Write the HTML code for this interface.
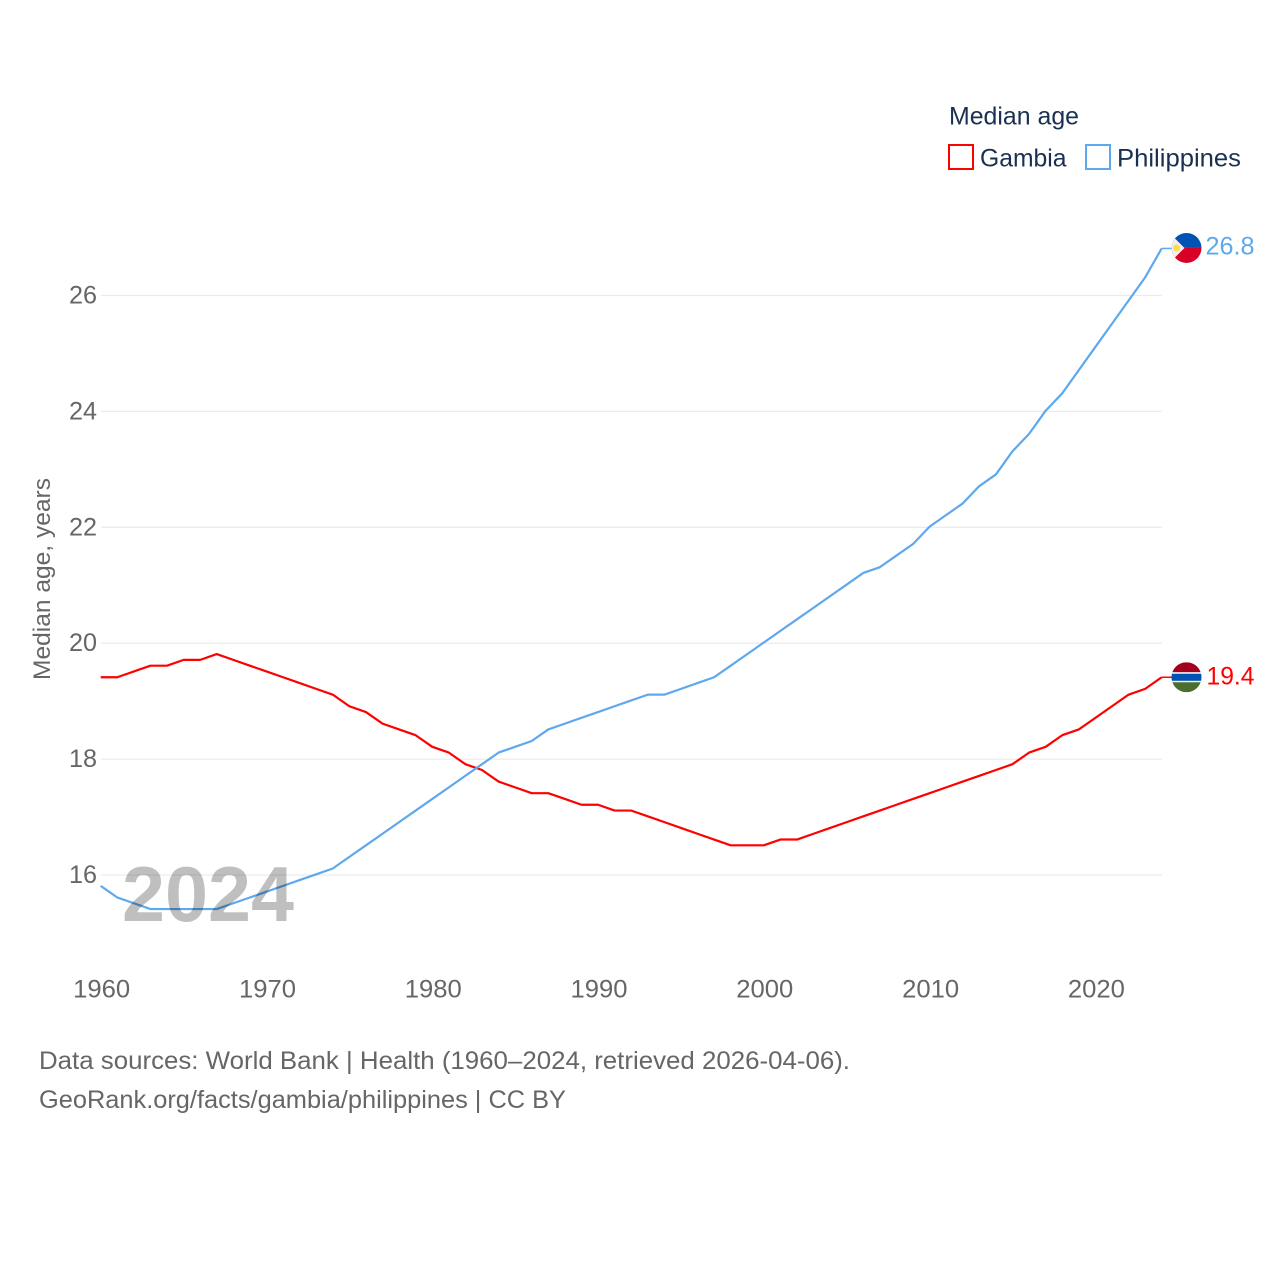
<!DOCTYPE html>
<html lang="en">
<head>
<meta charset="utf-8">
<title>Median age: Gambia vs Philippines</title>
<style>
html,body{margin:0;padding:0;background:#fff;}
svg{display:block;}
text{font-family:"Liberation Sans",sans-serif;}
</style>
</head>
<body>
<svg id="chart" xmlns="http://www.w3.org/2000/svg" width="1280" height="1280" viewBox="0 0 1280 1280">
  <rect x="0" y="0" width="1280" height="1280" fill="#fff"/>
  <g id="grid"></g>
  <g id="yticks"></g>
  <g id="xticks"></g>
  <text transform="translate(50,680) rotate(-90)" font-size="24.5" fill="#666" textLength="202" lengthAdjust="spacingAndGlyphs">Median age, years</text>
  <g id="series"></g>
  <text x="122" y="921" font-size="78" font-weight="700" fill="#000" fill-opacity="0.25" textLength="172" lengthAdjust="spacingAndGlyphs">2024</text>

  <g id="philippines-flag">
    <clipPath id="ph-clip"><circle id="ph-clip-c" r="15"/></clipPath>
    <g id="ph-flag-g" clip-path="url(#ph-clip)"></g>
  </g>
  <g id="gambia-flag">
    <clipPath id="gm-clip"><circle id="gm-clip-c" r="15"/></clipPath>
    <g id="gm-flag-g" clip-path="url(#gm-clip)"></g>
  </g>
  <g id="endlabels"></g>

  <g>
    <text x="949" y="124.5" font-size="25" fill="#1a3052" textLength="130" lengthAdjust="spacingAndGlyphs">Median age</text>
    <rect x="949" y="145" width="24" height="24" fill="none" stroke="#ff0000" stroke-width="2"/>
    <text x="980" y="166.5" font-size="25" fill="#1a3052" textLength="86.500" lengthAdjust="spacingAndGlyphs">Gambia</text>
    <rect x="1086" y="145" width="24" height="24" fill="none" stroke="#5ea8ee" stroke-width="2"/>
    <text x="1117" y="166.5" font-size="25" fill="#1a3052" textLength="124" lengthAdjust="spacingAndGlyphs">Philippines</text>
  </g>

  <text x="39" y="1069" font-size="25" fill="#666" textLength="811" lengthAdjust="spacingAndGlyphs">Data sources: World Bank | Health (1960–2024, retrieved 2026-04-06).</text>
  <text x="39" y="1108" font-size="25" fill="#666" textLength="527" lengthAdjust="spacingAndGlyphs">GeoRank.org/facts/gambia/philippines | CC BY</text>
</svg>
<script>
const years = [1960,1961,1962,1963,1964,1965,1966,1967,1968,1969,1970,1971,1972,1973,1974,1975,1976,1977,1978,1979,1980,1981,1982,1983,1984,1985,1986,1987,1988,1989,1990,1991,1992,1993,1994,1995,1996,1997,1998,1999,2000,2001,2002,2003,2004,2005,2006,2007,2008,2009,2010,2011,2012,2013,2014,2015,2016,2017,2018,2019,2020,2021,2022,2023,2024];
const gambiaValues = [19.4,19.4,19.5,19.6,19.6,19.7,19.7,19.8,19.7,19.6,19.5,19.4,19.3,19.2,19.1,18.9,18.8,18.6,18.5,18.4,18.2,18.1,17.9,17.8,17.6,17.5,17.4,17.4,17.3,17.2,17.2,17.1,17.1,17.0,16.9,16.8,16.7,16.6,16.5,16.5,16.5,16.6,16.6,16.7,16.8,16.9,17.0,17.1,17.2,17.3,17.4,17.5,17.6,17.7,17.8,17.9,18.1,18.2,18.4,18.5,18.7,18.9,19.1,19.2,19.4];
const philippinesValues = [15.8,15.6,15.5,15.4,15.4,15.4,15.4,15.4,15.5,15.6,15.7,15.8,15.9,16.0,16.1,16.3,16.5,16.7,16.9,17.1,17.3,17.5,17.7,17.9,18.1,18.2,18.3,18.5,18.6,18.7,18.8,18.9,19.0,19.1,19.1,19.2,19.3,19.4,19.6,19.8,20.0,20.2,20.4,20.6,20.8,21.0,21.2,21.3,21.5,21.7,22.0,22.2,22.4,22.7,22.9,23.3,23.6,24.0,24.3,24.7,25.1,25.5,25.9,26.3,26.8];
const yTickValues = [16,18,20,22,24,26];
const xTickValues = [1960,1970,1980,1990,2000,2010,2020];

const NS = 'http://www.w3.org/2000/svg';
const xPos = function (year) { return 100.7 + (year - 1960) * (1161.7 - 100.7) / 64; };
const yPos = function (value) { return 875 - (value - 16) * (875 - 295.5) / 10; };
const lineY = function (value) { return yPos(value) - 0.7; };

function make(tag, attrs, parent, content) {
  const el = document.createElementNS(NS, tag);
  Object.keys(attrs).forEach(function (k) { el.setAttribute(k, attrs[k]); });
  if (content !== undefined) { el.textContent = content; }
  parent.appendChild(el);
  return el;
}

const gridGroup = document.getElementById('grid');
const yGroup = document.getElementById('yticks');
const xGroup = document.getElementById('xticks');
const seriesGroup = document.getElementById('series');
const labelGroup = document.getElementById('endlabels');

yTickValues.forEach(function (v) {
  const line = make('line', {x1: 101, x2: 1162, y1: yPos(v), y2: yPos(v), stroke: '#ececec', 'stroke-width': 1.3}, gridGroup);
  
  
  const label = make('text', {x: 69, y: yPos(v) + 8, 'font-size': 25, fill: '#666', textLength: 28, lengthAdjust: 'spacingAndGlyphs'}, yGroup, String(v));
  
  
});

xTickValues.forEach(function (v) {
  const label = make('text', {x: xPos(v) - 27.5, y: 997.5, 'font-size': 25, fill: '#666', textLength: 57, lengthAdjust: 'spacingAndGlyphs'}, xGroup, String(v));
  
  
});

function linePath(values) {
  return values.map(function (v, i) {
    return (i ? 'L' : 'M') + xPos(years[i]).toFixed(2) + ' ' + lineY(v).toFixed(2);
  }).join(' ');
}

const gambiaLine = make('path', {d: linePath(gambiaValues), fill: 'none', stroke: '#ff0000', 'stroke-width': 2.2, 'stroke-linejoin': 'round'}, seriesGroup);


const philippinesLine = make('path', {d: linePath(philippinesValues), fill: 'none', stroke: '#5ea8ee', 'stroke-width': 2.2, 'stroke-linejoin': 'round'}, seriesGroup);



const lastYear = years[years.length - 1];
const gambiaLast = gambiaValues[gambiaValues.length - 1];
const philippinesLast = philippinesValues[philippinesValues.length - 1];
const endX = xPos(lastYear);
const flagX = endX + 24.8;

const gambiaTail = make('line', {x1: endX, x2: flagX - 14, y1: lineY(gambiaLast), y2: lineY(gambiaLast), stroke: '#ff0000', 'stroke-width': 1.5}, seriesGroup);


const philippinesTail = make('line', {x1: endX, x2: flagX - 14, y1: lineY(philippinesLast), y2: lineY(philippinesLast), stroke: '#5ea8ee', 'stroke-width': 1.5}, seriesGroup);



const gambiaValueLabel = make('text', {x: flagX + 20, y: lineY(gambiaLast) + 7, 'font-size': 25, fill: '#ff0000', textLength: 48, lengthAdjust: 'spacingAndGlyphs'}, labelGroup, gambiaLast.toFixed(1));


const philippinesValueLabel = make('text', {x: flagX + 19, y: lineY(philippinesLast) + 6, 'font-size': 25, fill: '#5ea8ee', textLength: 49, lengthAdjust: 'spacingAndGlyphs'}, labelGroup, philippinesLast.toFixed(1));



/* Philippines flag */
const py = lineY(philippinesLast) - 0.5;
const pc = document.getElementById('ph-clip-c');
pc.setAttribute('cx', flagX); pc.setAttribute('cy', py);
const pg = document.getElementById('ph-flag-g');
make('rect', {x: flagX - 15, y: py - 15, width: 30, height: 15, fill: '#0052b4'}, pg);
make('rect', {x: flagX - 15, y: py, width: 30, height: 15, fill: '#d80027'}, pg);
make('polygon', {points: (flagX - 17) + ',' + (py - 15) + ' ' + (flagX - 2) + ',' + py + ' ' + (flagX - 17) + ',' + (py + 15), fill: '#f0f0f0'}, pg);
make('circle', {cx: flagX - 10, cy: py, r: 3.4, fill: '#ffda44'}, pg);

/* Gambia flag */
const gy = lineY(gambiaLast);
const gc = document.getElementById('gm-clip-c');
gc.setAttribute('cx', flagX); gc.setAttribute('cy', gy);
const gg = document.getElementById('gm-flag-g');
make('rect', {x: flagX - 15, y: gy - 15, width: 30, height: 10, fill: '#a2001d'}, gg);
make('rect', {x: flagX - 15, y: gy - 5, width: 30, height: 10, fill: '#f0f0f0'}, gg);
make('rect', {x: flagX - 15, y: gy - 3.5, width: 30, height: 7, fill: '#0052b4'}, gg);
make('rect', {x: flagX - 15, y: gy + 5, width: 30, height: 10, fill: '#496e2d'}, gg);
</script>
</body>
</html>
